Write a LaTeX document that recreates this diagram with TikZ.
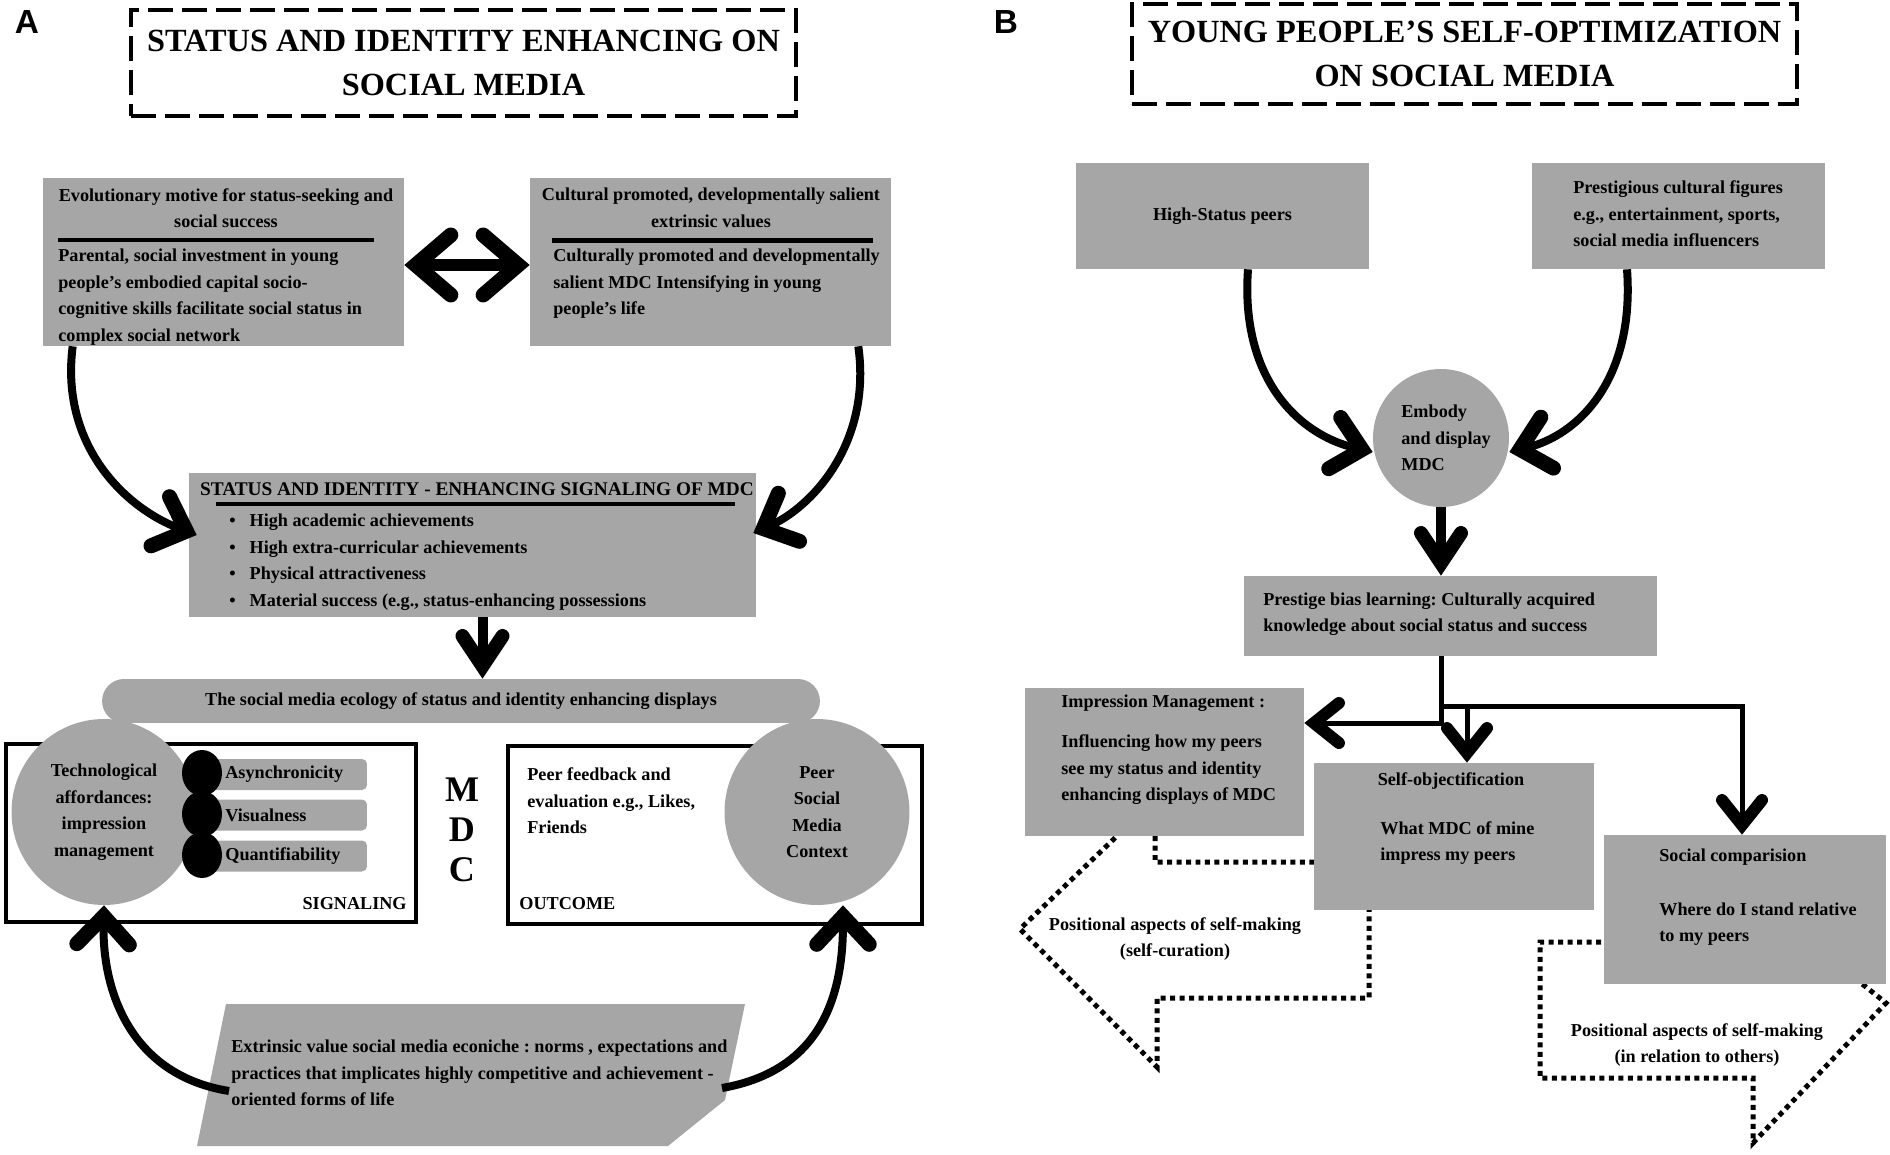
\documentclass[tikz,border=0pt]{standalone}
\usepackage{fontspec}
\setmainfont{Liberation Serif}
\newfontfamily\labelfont{Liberation Sans}
\usetikzlibrary{arrows.meta,positioning,shapes.geometric,calc}
\definecolor{boxgray}{RGB}{166,166,166}
\frenchspacing

\begin{document}
\begin{tikzpicture}[x=0.02cm, y=-0.02cm,
  font=\fontsize{10.35}{15.1}\selectfont\bfseries,
  box/.style={fill=boxgray, inner sep=0pt},
  frame/.style={draw=black, line width=0.9mm, inner sep=0pt},
  blob/.style={ellipse, fill=boxgray, inner sep=0pt},
  dotb/.style={ellipse, fill=black, inner sep=0pt, minimum width=8mm, minimum height=9.2mm},
  bar/.style={fill=boxgray, rounded corners=1mm, inner sep=0pt, minimum width=33.4mm, minimum height=6.2mm},
  ttl/.style={draw=black, line width=0.9mm, dash pattern=on 5mm off 1.8mm, inner sep=0pt,
              font=\fontsize{18.4}{25}\selectfont\bfseries, align=center},
  lbl/.style={inner sep=0pt, font=\fontsize{19}{19}\selectfont\labelfont\bfseries},
  txt/.style={inner sep=0pt, align=left},
  posit/.style={draw=black, line width=1mm, dash pattern=on 1mm off 0.9mm},
  dbl/.style={line width=2.4mm,
    {Straight Barb[length=7mm,width=12mm,line width'=3mm,line cap=round,line join=miter]}-{Straight Barb[length=7mm,width=12mm,line width'=3mm,line cap=round,line join=miter]}},
  curv/.style={line width=1.6mm, -{Straight Barb[length=5.6mm,width=10.5mm,line width'=3mm,line cap=round,line join=miter]}},
  dnarr/.style={line width=2mm, -{Straight Barb[length=6mm,width=8mm,line width'=2.8mm,line cap=round,line join=miter]}},
  brarr/.style={line width=1mm, -{Straight Barb[length=5mm,width=8mm,line width'=2.4mm,line cap=round,line join=miter]}},
  brl/.style={line width=1mm}
]
\useasboundingbox (0,0) rectangle (1890,1155);

% panel A
\node[lbl] (labA) at (27,22) {A};
\node[ttl, minimum width=133mm, minimum height=21.2mm] (titA) at (463.5,63) {STATUS AND IDENTITY ENHANCING ON\\SOCIAL MEDIA};

\node[box, minimum width=72.2mm, minimum height=33.6mm] (evo) at (223.5,262) {};
\node[txt, align=center] (evoh) at (226,208) {Evolutionary motive for status-seeking and\\social success};
\draw[line width=0.8mm] (58,240) -- (374,240);
\node[txt, anchor=west] (evob) at (58,297) {Parental, social investment in young\\people’s embodied capital socio-\\cognitive skills facilitate social status in\\complex social network};

\node[box, minimum width=72.2mm, minimum height=33.6mm] (cult) at (710.5,262) {};
\node[txt, align=center] (culth) at (711,208) {Cultural promoted, developmentally salient\\extrinsic values};
\draw[line width=1mm] (552,241) -- (873,241);
\node[txt, anchor=west] (cultb) at (553,284) {Culturally promoted and developmentally\\salient MDC Intensifying in young\\people’s life};

\draw[dbl] ([yshift=-0.6mm]evo.east) -- ([yshift=-0.6mm]cult.west);

\node[box, minimum width=113.4mm, minimum height=28.8mm] (sig) at (472.5,545) {};
\node[txt, font=\fontsize{11}{15}\selectfont\bfseries] (sigh) at (477,489) {STATUS AND IDENTITY - ENHANCING SIGNALING OF MDC};
\draw[line width=0.8mm] (216,504) -- (735,504);
\node[txt, anchor=west] (sigb) at (229,562) {\textbullet\hspace{2.8mm}High academic achievements\\
  \textbullet\hspace{2.8mm}High extra-curricular achievements\\
  \textbullet\hspace{2.8mm}Physical attractiveness\\
  \textbullet\hspace{2.8mm}Material success (e.g., status-enhancing possessions};

\draw[curv] ([xshift=6mm]evo.south west) .. controls (60,445) and (125,508) .. ([xshift=1.6mm,yshift=2mm]sig.west);
\draw[curv] ([xshift=-6.6mm]cult.south east) .. controls (872,445) and (810,508) .. ([xshift=-0.6mm,yshift=2.4mm]sig.east);

\node[box, rounded corners=4.4mm, minimum width=143.6mm, minimum height=8.8mm] (eco) at (461,701) {The social media ecology of status and identity enhancing displays};
\draw[dnarr] ([xshift=2mm]sig.south) -- ([xshift=2mm]sig.south |- eco.north);

\node[frame, minimum width=82mm, minimum height=35.6mm] (sigfr) at (211,833) {};
\node[frame, minimum width=82.8mm, minimum height=35.6mm] (outfr) at (715,835) {};

\node[bar] (asy) at (283.5,774.5) {};
\node[bar] (vis) at (283.5,815) {};
\node[bar] (qua) at (283.5,856) {};
\node[txt, anchor=west] (asyt) at (225,774.5) {Asynchronicity};
\node[txt, anchor=west] (vist) at (225,815) {Visualness};
\node[txt, anchor=west] (quat) at (225,856) {Quantifiability};

\node[blob, minimum width=37mm, minimum height=37.2mm, align=center] (tech) at (104,812) {Technological\\affordances:\\impression\\management};
\foreach \y/\n in {773/1, 814/2, 855/3}
  \node[dotb] (dot\n) at (202,\y) {};
\node[blob, minimum width=37mm, minimum height=37.2mm, align=center] (peer) at (817,812) {Peer\\Social\\Media\\Context};

\node[txt, align=center, font=\fontsize{20.5}{22.8}\selectfont\bfseries] (mdc) at (462,830) {M\\D\\C};
\node[txt, anchor=west] (fb) at (527,801) {Peer feedback and\\evaluation e.g., Likes,\\Friends};
\node[txt, anchor=east] (sgl) at (407,904) {SIGNALING};
\node[txt, anchor=west] (otc) at (519,904) {OUTCOME};

\fill[boxgray] (226,1004) -- (745,1004) -- (725,1100) -- (668,1146) -- (197,1146) -- cycle;
\node[txt, anchor=west] (extr) at (231,1073) {Extrinsic value social media econiche : norms , expectations and\\practices that implicates highly competitive and achievement -\\oriented forms of life};
\coordinate (extrL) at (229,1091);
\coordinate (extrR) at (722,1088);
\draw[curv] (extrL) .. controls (130,1075) and (102,990) .. (tech.south);
\draw[curv] (extrR) .. controls (825,1070) and (843,990) .. ([xshift=5.2mm]peer.south);

% panel B
\node[lbl] (labB) at (1006,22) {B};
\node[ttl, minimum width=133mm, minimum height=20mm] (titB) at (1464.5,54) {YOUNG PEOPLE’S SELF-OPTIMIZATION\\ON SOCIAL MEDIA};

\node[box, minimum width=58.6mm, minimum height=21.2mm] (hsp) at (1222.5,216) {High-Status peers};
\node[box, minimum width=58.6mm, minimum height=21.2mm] (pcf) at (1678.5,216) {};
\node[txt, anchor=west] (pcft) at (1573,214) {Prestigious cultural figures\\e.g., entertainment, sports,\\social media influencers};

\node[blob, minimum width=27.2mm, minimum height=27.6mm] (emb) at (1441,438) {};
\node[txt, anchor=west] (embt) at (1401,438) {Embody\\and display\\MDC};
\draw[curv] ([xshift=5.1mm]hsp.south) .. controls (1240,380) and (1300,435) .. ([yshift=-2.8mm]emb.west);
\draw[curv] ([xshift=-10.3mm]pcf.south) .. controls (1635,380) and (1578,435) .. ([yshift=-2.8mm]emb.east);

\node[box, minimum width=82.6mm, minimum height=16mm] (pbl) at (1450.5,616) {};
\node[txt, anchor=west] (pblt) at (1263,614) {Prestige bias learning: Culturally acquired\\knowledge about social status and success};
\draw[dnarr] (emb.south) -- (emb.south |- pbl.north);

\draw[posit] (1155,836) -- (1155,862) -- (1369,862) -- (1369,998) -- (1157,998) -- (1157,1067) -- (1020,929) -- (1117,836);
\node[txt, align=center] (selfc) at (1175,939) {Positional aspects of self-making\\(self-curation)};
\draw[posit] (1620,942) -- (1540,942) -- (1540,1078) -- (1753,1078) -- (1753,1143) -- (1886,1003) -- (1861,983) -- (1855,975);
\node[txt, align=center] (relo) at (1697,1045) {Positional aspects of self-making\\(in relation to others)};

\node[box, minimum width=55.8mm, minimum height=29.6mm] (imp) at (1164.5,762) {};
\node[txt, anchor=west] (impa) at (1061,703) {Impression Management :};
\node[txt, anchor=west] (impb) at (1061,770) {Influencing how my peers\\see my status and identity\\enhancing displays of MDC};

\node[box, minimum width=56mm, minimum height=29.4mm] (sob) at (1454,836.5) {};
\node[txt] (soba) at (1451,781) {Self-objectification};
\node[txt, anchor=west] (sobb) at (1380,843) {What MDC of mine\\impress my peers};

\node[box, minimum width=56.4mm, minimum height=29.8mm] (scp) at (1745,909.5) {};
\node[txt, anchor=west] (scpa) at (1659,857) {Social comparision};
\node[txt, anchor=west] (scpb) at (1659,924) {Where do I stand relative\\to my peers};

\coordinate (trunk) at (1441,706);
\draw[brl] (emb.south |- pbl.south) -- (trunk);
\draw[brarr] (trunk) |- ([yshift=7.8mm]imp.east);
\draw[brarr] (trunk) -| ([xshift=-0.6mm]scp.north);
\draw[brarr] ([xshift=5.2mm]trunk) -- ([xshift=5.2mm]trunk |- sob.north);
\end{tikzpicture}
\end{document}
